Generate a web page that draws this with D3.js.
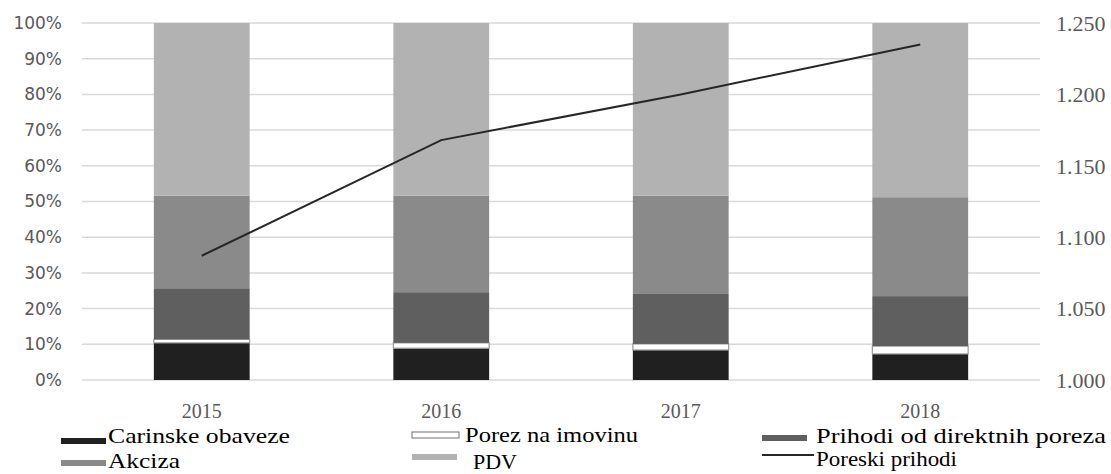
<!DOCTYPE html>
<html>
<head>
<meta charset="utf-8">
<script src="https://cdn.jsdelivr.net/npm/d3@7"></script>
<style>
  html, body { margin: 0; padding: 0; background: #fff; }
  svg { display: block; }
</style>
</head>
<body>
<div id="app"></div>
<script>
const years = ['2015', '2016', '2017', '2018'];
const carinske = [10.4, 8.9, 8.4, 7.3];
const porez = [1.0, 1.5, 1.7, 2.2];
const direktni = [14.3, 14.2, 14.0, 14.0];
const akciza = [25.9, 27.0, 27.5, 27.7];
const pdv = [48.4, 48.4, 48.4, 48.8];
const poreski = [1.087, 1.168, 1.200, 1.235];
const leftTicks = [0, 10, 20, 30, 40, 50, 60, 70, 80, 90, 100];
const rightTicks = [1.000, 1.050, 1.100, 1.150, 1.200, 1.250];

const width = 1111;
const height = 474;
const plot = { left: 82, right: 1040, top: 23, bottom: 380 };
const serif = "'Liberation Serif', 'Times New Roman', serif";

const seriesNames = ['Carinske obaveze', 'Porez na imovinu', 'Prihodi od direktnih poreza', 'Akciza', 'PDV'];
const seriesValues = [carinske, porez, direktni, akciza, pdv];
const fills = ['#202020', '#ffffff', '#5f5f5f', '#8a8a8a', '#b2b2b2'];

const svg = d3.select('#app').append('svg')
  .attr('width', width)
  .attr('height', height);

const x = d3.scaleBand()
  .domain(years)
  .range([plot.left, plot.right])
  .paddingInner(0.6)
  .paddingOuter(0.3);

const y = d3.scaleLinear()
  .domain([0, 100])
  .range([plot.bottom, plot.top]);

const y2 = d3.scaleLinear()
  .domain([1.0, 1.25])
  .range([plot.bottom, plot.top]);

// gridlines
svg.append('g')
  .selectAll('line')
  .data(leftTicks)
  .enter().append('line')
  .attr('x1', plot.left)
  .attr('x2', plot.right)
  .attr('y1', d => y(d))
  .attr('y2', d => y(d))
  .attr('stroke', '#d9d9d9')
  .attr('stroke-width', 1.5);

// stacked bars
const rows = years.map((yr, i) => {
  const row = { year: yr };
  seriesNames.forEach((name, k) => { row[name] = seriesValues[k][i]; });
  return row;
});
const stacked = d3.stack().keys(seriesNames)(rows);

svg.append('g')
  .selectAll('g')
  .data(stacked)
  .enter().append('g')
  .attr('fill', (d, k) => fills[k])
  .attr('stroke', (d, k) => k === 1 ? '#9a9a9a' : 'none')
  .attr('stroke-width', 1.2)
  .selectAll('rect')
  .data(d => d)
  .enter().append('rect')
  .attr('x', d => x(d.data.year))
  .attr('width', x.bandwidth())
  .attr('y', d => y(d[1]))
  .attr('height', d => y(d[0]) - y(d[1]));

// line on secondary axis
svg.append('path')
  .datum(poreski)
  .attr('fill', 'none')
  .attr('stroke', '#262626')
  .attr('stroke-width', 2)
  .attr('d', d3.line()
    .x((d, i) => x(years[i]) + x.bandwidth() / 2)
    .y(d => y2(d)));

// left axis labels
svg.append('g')
  .selectAll('text')
  .data(leftTicks)
  .enter().append('text')
  .attr('x', 62)
  .attr('y', d => y(d))
  .attr('dy', '0.35em')
  .attr('text-anchor', 'end')
  .attr('font-family', "'DejaVu Sans', sans-serif")
  .attr('font-size', 17)
  .attr('fill', '#595959')
  .text(d => d + '%');

// right axis labels
svg.append('g')
  .selectAll('text')
  .data(rightTicks)
  .enter().append('text')
  .attr('x', 1056)
  .attr('y', d => y2(d))
  .attr('dy', '0.35em')
  .attr('font-family', serif)
  .attr('font-size', 22)
  .attr('fill', '#595959')
  .text(d => d3.format('.3f')(d));

// year labels
svg.append('g')
  .selectAll('text')
  .data(years)
  .enter().append('text')
  .attr('x', d => x(d) + x.bandwidth() / 2)
  .attr('y', 418)
  .attr('text-anchor', 'middle')
  .attr('font-family', serif)
  .attr('font-size', 20)
  .attr('fill', '#595959')
  .text(d => d);

// legend
const legendItems = [
  { name: 'Carinske obaveze', fill: fills[0], sx: 61, sy: 438, tx: 108, ty: 443, w: 182 },
  { name: 'Porez na imovinu', fill: fills[1], sx: 412, sy: 432, tx: 465, ty: 442, w: 173, stroke: true },
  { name: 'Prihodi od direktnih poreza', fill: fills[2], sx: 762, sy: 435, tx: 816, ty: 443, w: 290 },
  { name: 'Akciza', fill: fills[3], sx: 61, sy: 460, tx: 108, ty: 468, w: 72 },
  { name: 'PDV', fill: fills[4], sx: 412, sy: 454, tx: 473, ty: 469, w: 44 },
  { name: 'Poreski prihodi', line: true, sx: 762, sy: 455, tx: 816, ty: 466, w: 141 }
];

const legend = svg.append('g');
legendItems.forEach(item => {
  if (item.line) {
    legend.append('line')
      .attr('x1', item.sx).attr('x2', item.sx + 52)
      .attr('y1', item.sy).attr('y2', item.sy)
      .attr('stroke', '#262626')
      .attr('stroke-width', 2);
  } else {
    legend.append('rect')
      .attr('x', item.sx)
      .attr('y', item.sy)
      .attr('width', item.stroke ? 47 : 45)
      .attr('height', 6)
      .attr('fill', item.fill)
      .attr('stroke', item.stroke ? '#707070' : 'none')
      .attr('stroke-width', 1);
  }
  legend.append('text')
    .attr('x', item.tx)
    .attr('y', item.ty)
    .attr('font-family', serif)
    .attr('font-size', 22)
    .attr('textLength', item.w)
    .attr('lengthAdjust', 'spacingAndGlyphs')
    .attr('fill', '#000')
    .text(item.name);
});
</script>
</body>
</html>
